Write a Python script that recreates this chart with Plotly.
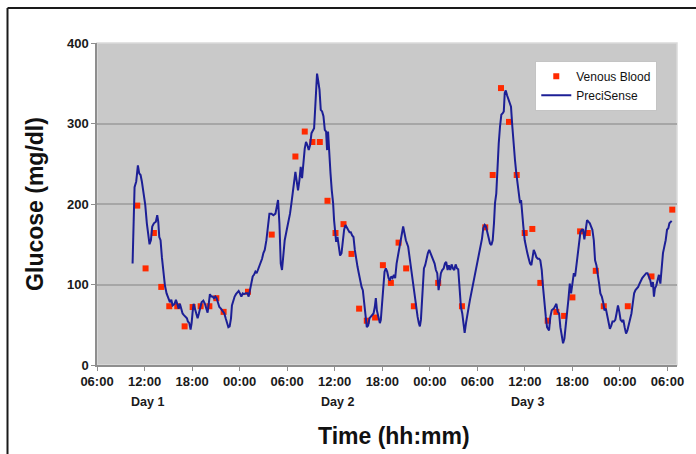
import plotly.graph_objects as go

# ---- data (hours since 00:00 of Day 1, glucose mg/dl) ----
venous_hours = [11.08, 12.13, 13.18, 14.11, 15.12, 16.13, 17.06, 18.07, 19.08, 20.18, 21.06, 21.98,
                25.06, 28.05, 31.04, 32.22, 33.19, 34.12, 35.09, 36.10, 37.11, 38.12, 39.08, 40.05,
                41.10, 42.08, 43.09, 44.06, 45.02, 45.99, 49.06, 52.06, 55.00, 55.94, 56.99, 58.00,
                58.97, 59.98, 60.94, 61.95, 62.88, 63.97, 64.95, 66.00, 66.97, 67.94, 68.95, 69.96,
                72.99, 75.98, 78.60]
venous_glucose = [198, 120, 164, 97, 73, 73, 48, 72, 73, 73, 83, 66,
                  91, 162, 259, 290, 277, 277, 204, 164, 175, 138, 70, 55,
                  59, 124, 102, 152, 120, 73, 102, 73, 171, 236, 344, 302,
                  236, 164, 169, 102, 55, 66, 61, 84, 166, 164, 117, 73,
                  73, 110, 193]

sensor_hours = [10.49, 10.74, 10.95, 11.16, 11.33, 11.50, 11.66, 11.91, 12.09, 12.29, 12.51, 12.63,
                12.80, 12.97, 13.18, 13.43, 13.60, 13.73, 13.86, 14.02, 14.19, 14.40, 14.57, 14.78,
                15.00, 15.20, 15.38, 15.54, 15.79, 15.96, 16.13, 16.30, 16.46, 16.64, 16.80, 16.97,
                17.18, 17.35, 17.47, 17.65, 17.81, 17.94, 18.07, 18.19, 18.36, 18.53, 18.70, 18.86,
                19.04, 19.20, 19.42, 19.62, 19.80, 19.96, 20.13, 20.25, 20.43, 20.59, 20.76, 20.94,
                21.10, 21.26, 21.44, 21.64, 21.86, 22.07, 22.24, 22.40, 22.58, 22.74, 22.91, 23.03,
                23.21, 23.37, 23.54, 23.72, 23.88, 24.04, 24.22, 24.39, 24.55, 24.76, 24.98, 25.14,
                25.31, 25.48, 25.65, 25.81, 25.99, 26.15, 26.32, 26.50, 26.66, 26.83, 27.00, 27.17,
                27.38, 27.58, 27.76, 28.01, 28.26, 28.52, 28.68, 28.85, 29.02, 29.19, 29.35, 29.53,
                29.69, 29.95, 30.20, 30.36, 30.54, 30.70, 30.87, 31.04, 31.21, 31.37, 31.55, 31.71,
                31.88, 32.05, 32.22, 32.38, 32.56, 32.72, 32.89, 33.07, 33.23, 33.40, 33.57, 33.70,
                33.77, 33.90, 34.08, 34.24, 34.41, 34.58, 34.75, 34.91, 35.04, 35.16, 35.29, 35.47,
                35.63, 35.80, 35.92, 36.05, 36.18, 36.35, 36.52, 36.68, 36.86, 37.02, 37.19, 37.36,
                37.53, 37.69, 37.87, 38.03, 38.20, 38.37, 38.54, 38.70, 38.88, 39.04, 39.21, 39.39,
                39.55, 39.71, 39.89, 40.05, 40.22, 40.39, 40.56, 40.72, 40.90, 41.06, 41.19, 41.32,
                41.48, 41.70, 41.82, 41.95, 42.11, 42.29, 42.45, 42.62, 42.80, 42.96, 43.13, 43.30,
                43.47, 43.63, 43.81, 43.97, 44.14, 44.31, 44.48, 44.64, 44.82, 44.98, 45.27, 45.45,
                45.61, 45.78, 45.95, 46.12, 46.28, 46.46, 46.62, 46.75, 46.88, 47.00, 47.13, 47.26,
                47.42, 47.60, 47.76, 47.93, 48.11, 48.27, 48.43, 48.61, 48.77, 48.94, 49.11, 49.24,
                49.40, 49.57, 49.75, 49.91, 50.07, 50.25, 50.41, 50.58, 50.75, 50.92, 51.09, 51.26,
                51.43, 51.59, 51.77, 51.93, 52.10, 52.28, 52.40, 52.57, 52.73, 52.91, 53.07, 53.23,
                53.41, 53.58, 53.74, 53.92, 54.08, 54.24, 54.42, 54.59, 54.75, 54.93, 55.09, 55.26,
                55.43, 55.60, 55.77, 55.94, 56.10, 56.23, 56.39, 56.52, 56.70, 56.86, 57.03, 57.21,
                57.34, 57.46, 57.59, 57.75, 57.91, 58.09, 58.25, 58.42, 58.59, 58.75, 58.92, 59.10,
                59.26, 59.39, 59.52, 59.64, 59.81, 59.98, 60.14, 60.31, 60.49, 60.65, 60.82, 61.00,
                61.12, 61.29, 61.45, 61.63, 61.79, 61.95, 62.13, 62.29, 62.46, 62.64, 62.80, 63.05,
                63.22, 63.39, 63.65, 63.81, 63.98, 64.15, 64.32, 64.48, 64.66, 64.82, 64.99, 65.16,
                65.33, 65.49, 65.67, 65.83, 66.00, 66.18, 66.34, 66.50, 66.68, 66.85, 67.01, 67.19,
                67.35, 67.51, 67.69, 67.85, 68.02, 68.20, 68.36, 68.52, 68.70, 68.86, 69.03, 69.21,
                69.37, 69.53, 69.71, 69.88, 70.04, 70.22, 70.39, 70.55, 70.73, 70.90, 71.06, 71.24,
                71.41, 71.57, 71.75, 71.92, 72.08, 72.26, 72.43, 72.59, 72.77, 72.94, 73.10, 73.28,
                73.45, 73.61, 73.79, 73.96, 74.12, 74.30, 74.47, 74.63, 74.81, 74.98, 75.14, 75.32,
                75.48, 75.65, 75.83, 75.99, 76.16, 76.29, 76.41, 76.59, 76.75, 76.92, 77.10, 77.26,
                77.43, 77.60, 77.77, 77.94, 78.11, 78.24, 78.40, 78.53]
sensor_glucose = [126, 221, 228, 248, 238, 236, 228, 209, 199, 176, 157, 150,
                  155, 172, 176, 178, 186, 178, 159, 155, 134, 110, 99, 89,
                  83, 78, 81, 74, 76, 81, 76, 70, 76, 68, 64, 62,
                  60, 58, 54, 52, 44, 52, 66, 76, 70, 64, 58, 64,
                  72, 78, 80, 76, 70, 65, 78, 88, 85, 85, 83, 85,
                  83, 78, 72, 70, 66, 64, 58, 52, 47, 48, 58, 74,
                  81, 85, 88, 91, 92, 89, 85, 89, 88, 89, 89, 85,
                  93, 103, 110, 112, 116, 114, 118, 122, 127, 132, 139, 143,
                  155, 172, 188, 188, 186, 188, 197, 205, 176, 126, 118, 143,
                  155, 168, 178, 188, 201, 213, 228, 240, 228, 217, 230, 246,
                  232, 255, 269, 277, 273, 267, 273, 288, 292, 294, 325, 346,
                  362, 354, 342, 317, 315, 309, 292, 290, 267, 290, 263, 238,
                  217, 201, 180, 168, 153, 159, 143, 136, 139, 155, 168, 174,
                  170, 168, 165, 165, 161, 159, 143, 130, 122, 114, 105, 97,
                  93, 76, 56, 47, 49, 58, 60, 62, 64, 72, 83, 68,
                  60, 52, 56, 76, 101, 116, 120, 116, 108, 105, 110, 108,
                  112, 108, 126, 136, 143, 155, 163, 172, 163, 155, 147, 134,
                  118, 105, 93, 81, 68, 60, 52, 48, 56, 81, 105, 120,
                  124, 134, 139, 143, 139, 134, 130, 126, 118, 114, 93, 101,
                  114, 118, 120, 126, 128, 118, 124, 118, 125, 120, 118, 125,
                  120, 119, 97, 72, 64, 47, 40, 52, 64, 72, 81, 89,
                  97, 105, 112, 122, 130, 141, 149, 157, 170, 174, 172, 165,
                  155, 151, 149, 155, 176, 201, 213, 246, 275, 296, 311, 313,
                  315, 338, 341, 335, 331, 327, 321, 296, 271, 255, 238, 221,
                  209, 201, 205, 188, 172, 155, 145, 139, 132, 126, 124, 134,
                  143, 139, 134, 132, 132, 130, 118, 97, 76, 60, 47, 43,
                  60, 68, 70, 74, 76, 66, 64, 47, 33, 27, 33, 47,
                  60, 81, 101, 89, 101, 114, 110, 122, 139, 151, 165, 168,
                  168, 156, 172, 180, 178, 176, 172, 168, 155, 130, 124, 114,
                  101, 89, 85, 78, 68, 70, 62, 52, 45, 49, 54, 54,
                  56, 64, 74, 66, 56, 54, 56, 47, 39, 43, 49, 56,
                  64, 76, 89, 93, 95, 97, 101, 105, 108, 110, 112, 114,
                  114, 110, 105, 97, 103, 85, 95, 99, 105, 112, 101, 122,
                  139, 147, 155, 168, 170, 176, 178, 179]

tick_hours = [6, 12, 18, 24, 30, 36, 42, 48, 54, 60, 66, 72, 78]
tick_labels = ["06:00", "12:00", "18:00", "00:00", "06:00", "12:00", "18:00",
               "00:00", "06:00", "12:00", "18:00", "00:00", "06:00"]
day_hours = [12, 36, 60]
day_labels = ["Day 1", "Day 2", "Day 3"]

FONT = "Liberation Sans, Arial, Helvetica, sans-serif"

fig = go.Figure()
fig.add_trace(go.Scatter(
    x=venous_hours, y=venous_glucose, mode="markers", name="Venous Blood",
    marker=dict(symbol="square", size=6, color="#FF2A00", line=dict(width=0)),
))
fig.add_trace(go.Scatter(
    x=sensor_hours, y=sensor_glucose, mode="lines", name="PreciSense",
    line=dict(color="#1C1F96", width=2),
))

for h, lab in zip(day_hours, day_labels):
    fig.add_annotation(x=h, y=0, xref="x", yref="paper", text="<b>%s</b>" % lab,
                       showarrow=False, yanchor="middle", yshift=-37, xshift=3,
                       font=dict(family=FONT, size=12.5, color="#1a1a1a"))

# x-axis title (as annotation, slightly right of centre like the original)
fig.add_annotation(x=0.5, y=0, xref="paper", yref="paper", text="<b>Time (hh:mm)</b>",
                   showarrow=False, yanchor="middle", yshift=-71, xshift=7,
                   font=dict(family=FONT, size=23, color="#111"))

# plot-area light border (top/right)
fig.add_shape(type="rect", xref="paper", yref="paper", x0=0, x1=1, y0=0, y1=1,
              line=dict(color="#DADADA", width=1.5), layer="below")
# outer frame lines (top and left)
fig.add_shape(type="line", xref="paper", yref="paper", x0=-0.1543, x1=1.04, y0=1.1087, y1=1.1087,
              line=dict(color="#1a1a1a", width=2))
fig.add_shape(type="line", xref="paper", yref="paper", x0=-0.1543, x1=-0.1543, y0=1.1087, y1=-0.3,
              line=dict(color="#1a1a1a", width=2))

fig.update_layout(
    width=696, height=454,
    margin=dict(l=97, r=19, t=43, b=89),
    paper_bgcolor="white", plot_bgcolor="#C9C9C9",
    font=dict(family=FONT, color="#1a1a1a"),
    showlegend=True,
    legend=dict(x=0.966, y=0.945, xanchor="right", yanchor="top",
                bgcolor="white", bordercolor="#C4C4C4", borderwidth=1,
                font=dict(family=FONT, size=12, color="#111"),
                itemwidth=30, tracegroupgap=0),
    xaxis=dict(range=[6, 79.2], tickmode="array", tickvals=tick_hours, ticktext=tick_labels,
               showgrid=False, zeroline=False, showline=True, linecolor="#8E8E8E", linewidth=1.5,
               ticks="outside", ticklen=4, tickcolor="#8E8E8E", tickwidth=1,
               tickfont=dict(family=FONT, size=13, color="#1a1a1a", weight="bold")),
    yaxis=dict(range=[0, 400], dtick=100, showgrid=True, gridcolor="#A6A6A6", gridwidth=1.5,
               zeroline=False, showline=True, linecolor="#8E8E8E", linewidth=1.5,
               ticks="outside", ticklen=4, tickcolor="#8E8E8E", tickwidth=1,
               tickfont=dict(family=FONT, size=13, color="#1a1a1a", weight="bold"),
               title=dict(text="<b>Glucose (mg/dl)</b>", font=dict(family=FONT, size=23, color="#111"),
                          standoff=17)),
)

fig.write_html("out.html", config={"displayModeBar": False},
               post_script="document.body.style.margin='0';document.body.style.overflow='hidden';")
